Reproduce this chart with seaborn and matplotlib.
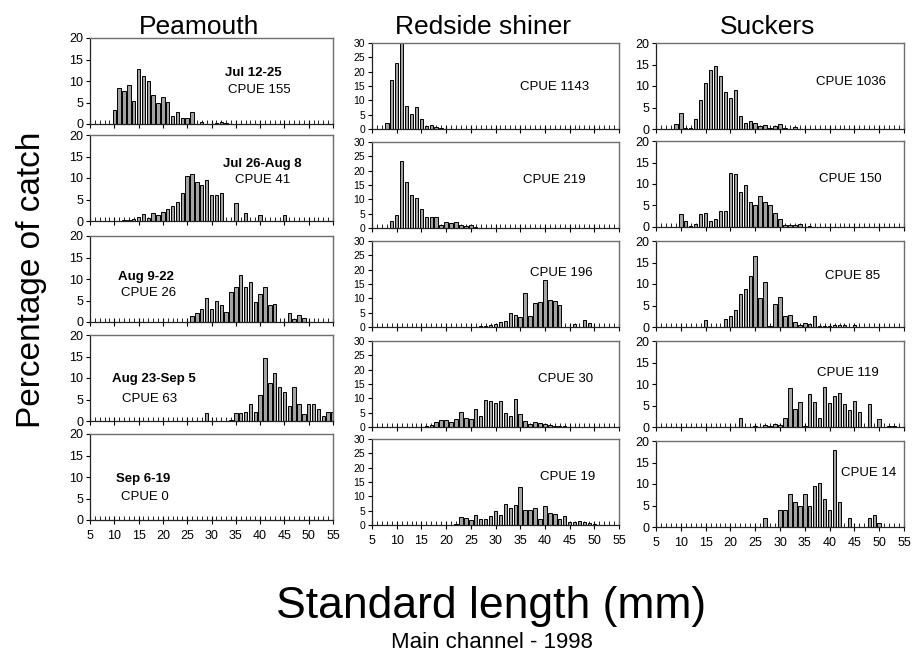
import matplotlib
matplotlib.use("Agg")
import matplotlib.pyplot as plt
import seaborn as sns

# ---------------- data (standard length mm, % of catch) ----------------
# Peamouth
pea1_len = [10, 11, 12, 13, 14, 15, 16, 17, 18, 19, 20, 21, 22, 23, 24, 25, 26, 28, 31, 32, 33]
pea1_pct = [3.3, 8.4, 7.6, 9.1, 5.4, 12.9, 11.2, 9.9, 6.7, 5.0, 6.3, 5.2, 1.9, 2.7, 1.3, 1.3, 2.9, 0.4, 0.3, 0.4, 0.3]
pea2_len = [12, 13, 14, 15, 16, 17, 18, 19, 20, 21, 22, 23, 24, 25, 26, 27, 28, 29, 30, 31, 32, 35, 37, 40, 45]
pea2_pct = [0.3, 0.3, 0.4, 1.0, 1.6, 0.7, 1.8, 1.4, 2.2, 2.9, 3.6, 4.5, 6.6, 10.4, 11.0, 9.1, 8.3, 9.5, 6.0, 6.0, 6.4, 4.1, 1.9, 1.5, 1.5]
pea3_len = [26, 27, 28, 29, 30, 31, 32, 33, 34, 35, 36, 37, 38, 39, 40, 41, 42, 43, 46, 47, 48, 49]
pea3_pct = [1.3, 2.1, 3.1, 5.5, 3.1, 5.0, 4.0, 2.4, 7.0, 8.1, 10.9, 8.1, 9.2, 4.7, 6.6, 8.1, 4.0, 4.3, 2.1, 0.6, 1.7, 0.9]
pea4_len = [29, 34, 35, 36, 37, 38, 39, 40, 41, 42, 43, 44, 45, 46, 47, 48, 49, 50, 51, 52, 53, 54, 55]
pea4_pct = [1.8, 0.2, 1.8, 1.8, 2.2, 3.9, 2.2, 6.0, 14.7, 8.8, 11.1, 7.8, 6.8, 3.6, 7.8, 3.9, 1.6, 3.9, 3.9, 2.8, 1.2, 2.0, 2.0]
pea5_len = []
pea5_pct = []

# Redside shiner
rss1_len = [8, 9, 10, 11, 12, 13, 14, 15, 16, 17, 18, 19]
rss1_pct = [2.2, 17.1, 23.0, 31.0, 7.9, 5.2, 7.7, 3.5, 1.2, 1.5, 0.6, 0.2]
rss2_len = [9, 10, 11, 12, 13, 14, 15, 16, 17, 18, 19, 20, 21, 22, 23, 24, 25, 26]
rss2_pct = [2.6, 4.6, 23.2, 16.2, 11.5, 10.4, 6.6, 4.0, 3.8, 3.8, 1.2, 2.0, 1.6, 2.1, 1.0, 0.7, 1.0, 0.3]
rss3_len = [27, 28, 29, 30, 31, 32, 33, 34, 35, 36, 37, 38, 39, 40, 41, 42, 43, 46, 48, 49]
rss3_pct = [0.2, 0.2, 0.6, 0.9, 1.8, 2.0, 4.8, 4.1, 3.6, 11.8, 3.7, 8.4, 8.6, 16.4, 9.4, 9.0, 7.7, 0.9, 2.4, 1.5]
rss4_len = [16, 17, 18, 19, 20, 21, 22, 23, 24, 25, 26, 27, 28, 29, 30, 31, 32, 33, 34, 35, 36, 37, 38, 39, 40, 41, 42, 43, 44]
rss4_pct = [0.4, 0.8, 1.6, 2.3, 2.5, 1.9, 2.9, 5.2, 3.3, 2.9, 6.4, 3.9, 9.3, 9.0, 8.4, 9.0, 5.0, 3.9, 9.6, 4.5, 2.2, 1.2, 1.7, 1.4, 1.0, 0.6, 0.5, 0.4, 0.3]
rss5_len = [22, 23, 24, 25, 26, 27, 28, 29, 30, 31, 32, 33, 34, 35, 36, 37, 38, 39, 40, 41, 42, 43, 44, 45, 46, 47, 48, 49, 50]
rss5_pct = [0.3, 2.8, 2.5, 1.6, 3.5, 2.2, 2.1, 3.2, 5.0, 3.4, 7.3, 6.0, 7.1, 13.1, 5.4, 5.1, 6.0, 2.2, 6.8, 4.2, 4.0, 2.0, 3.3, 1.0, 1.0, 1.4, 1.0, 0.8, 0.4]

# Suckers
suc1_len = [9, 10, 11, 12, 13, 14, 15, 16, 17, 18, 19, 20, 21, 22, 23, 24, 25, 26, 27, 28, 29, 30, 31, 33]
suc1_pct = [1.1, 3.8, 0.3, 0.2, 2.4, 6.7, 10.6, 13.7, 14.7, 12.4, 8.6, 7.3, 9.0, 3.1, 1.4, 1.8, 1.5, 0.8, 0.9, 0.2, 0.6, 1.1, 0.2, 0.5]
suc2_len = [10, 11, 12, 13, 14, 15, 16, 17, 18, 19, 20, 21, 22, 23, 24, 25, 26, 27, 28, 29, 30, 31, 32, 33, 34, 36]
suc2_pct = [3.0, 1.3, 0.2, 0.8, 3.0, 3.2, 1.3, 1.9, 3.7, 3.8, 12.5, 12.3, 8.2, 9.8, 5.8, 5.0, 7.3, 5.7, 5.1, 3.3, 1.9, 0.4, 0.4, 0.4, 0.8, 0.2]
suc3_len = [15, 19, 20, 21, 22, 23, 24, 25, 26, 27, 28, 29, 30, 31, 32, 33, 34, 35, 36, 37, 38, 39, 40, 41, 42, 43, 45]
suc3_pct = [1.6, 1.9, 2.5, 4.0, 7.7, 8.9, 11.9, 16.5, 6.8, 10.5, 0.3, 5.3, 6.9, 2.6, 2.9, 1.2, 0.4, 1.0, 0.8, 2.5, 0.3, 0.3, 0.3, 0.4, 0.4, 0.5, 0.4]
suc4_len = [22, 25, 27, 28, 29, 30, 31, 32, 33, 34, 35, 36, 37, 38, 39, 40, 41, 42, 43, 44, 45, 46, 48, 50, 52, 53]
suc4_pct = [2.0, 0.3, 0.5, 0.3, 0.6, 0.4, 2.2, 9.1, 4.2, 5.9, 0.2, 7.7, 5.7, 2.0, 9.3, 5.6, 7.2, 7.8, 5.4, 3.9, 6.1, 3.6, 5.3, 1.8, 0.3, 0.3]
suc5_len = [27, 30, 31, 32, 33, 34, 35, 36, 37, 38, 39, 40, 41, 42, 44, 48, 49, 50]
suc5_pct = [2.0, 3.9, 3.9, 7.6, 5.8, 4.8, 7.6, 4.8, 9.5, 10.3, 6.6, 3.9, 17.9, 5.8, 2.0, 2.0, 2.9, 1.0]

species = ["Peamouth", "Redside shiner", "Suckers"]
periods = ["Jul 12-25", "Jul 26-Aug 8", "Aug 9-22", "Aug 23-Sep 5", "Sep 6-19"]
pea_cpue = ["CPUE 155", "CPUE 41", "CPUE 26", "CPUE 63", "CPUE 0"]
rss_cpue = ["CPUE 1143", "CPUE 219", "CPUE 196", "CPUE 30", "CPUE 19"]
suc_cpue = ["CPUE 1036", "CPUE 150", "CPUE 85", "CPUE 119", "CPUE 14"]
x_ticks = [5, 10, 15, 20, 25, 30, 35, 40, 45, 50, 55]

# ---------------- style ----------------
sns.set_style("ticks")
plt.rcParams["font.family"] = ["Liberation Sans", "DejaVu Sans"]
plt.rcParams["text.color"] = "black"
plt.rcParams["xtick.color"] = "black"
plt.rcParams["ytick.color"] = "black"
plt.rcParams["xtick.labelcolor"] = "black"
plt.rcParams["ytick.labelcolor"] = "black"

W, H = 913, 666
fig = plt.figure(figsize=(W / 100, H / 100), dpi=100)

panels = [
    [(pea1_len, pea1_pct), (pea2_len, pea2_pct), (pea3_len, pea3_pct), (pea4_len, pea4_pct), (pea5_len, pea5_pct)],
    [(rss1_len, rss1_pct), (rss2_len, rss2_pct), (rss3_len, rss3_pct), (rss4_len, rss4_pct), (rss5_len, rss5_pct)],
    [(suc1_len, suc1_pct), (suc2_len, suc2_pct), (suc3_len, suc3_pct), (suc4_len, suc4_pct), (suc5_len, suc5_pct)],
]
cpues = [pea_cpue, rss_cpue, suc_cpue]

# layout (pixels)
col_x = [(90, 333), (372, 619), (656, 904)]
col_tops = [[38, 135, 236, 335, 434], [43, 142, 241, 341, 439], [43, 141, 241, 341, 441]]
panel_h = 86
ymaxes = [20, 30, 20]
ytick_fs = [9, 7.5, 9]

# text positions in data coordinates
date_pos = [(38.7, 11.9), (40.4, 13.3), (16.45, 10.5), (18.15, 9.8), (15.9, 9.5)]
cpue_pos = [
    [(39.8, 7.9), (40.5, 9.5), (17.0, 6.7), (17.2, 5.1), (16.3, 5.3)],
    [(41.9, 14.6), (42.0, 16.6), (43.4, 18.7), (44.2, 16.8), (44.6, 16.9)],
    [(44.4, 10.9), (44.2, 11.2), (44.6, 11.9), (43.6, 12.5), (47.9, 12.5)],
]

for c in range(3):
    x0, x1 = col_x[c]
    for r in range(5):
        top = col_tops[c][r]
        ax = fig.add_axes([x0 / W, 1 - (top + panel_h) / H, (x1 - x0) / W, panel_h / H])
        lens, pcts = panels[c][r]
        if len(lens) > 0:
            sns.histplot(x=lens, weights=pcts, discrete=True, shrink=0.7,
                         color="#a3a3a3", edgecolor="black", linewidth=0.7,
                         alpha=1, ax=ax)
        ax.set_xlim(5, 55)
        ax.set_ylim(0, ymaxes[c])
        ax.set_xlabel("")
        ax.set_ylabel("")
        ax.set_xticks(x_ticks)
        ax.set_xticks(range(5, 56), minor=True)
        ax.set_yticks(range(0, ymaxes[c] + 1, 5))
        ax.tick_params(axis="x", which="major", direction="inout", length=6, width=0.8,
                       color="black", labelsize=9, pad=4, labelcolor="black")
        ax.tick_params(axis="x", which="minor", direction="in", length=3, width=0.6, color="black")
        ax.tick_params(axis="y", which="major", direction="out", length=3, width=0.8,
                       color="black", labelsize=ytick_fs[c], pad=2, labelcolor="black")
        if r < 4:
            ax.tick_params(axis="x", labelbottom=False)
        for side in ["top", "right"]:
            ax.spines[side].set_color("#6e6e6e")
            ax.spines[side].set_linewidth(1.0)
        for side in ["left", "bottom"]:
            ax.spines[side].set_color("#222222")
            ax.spines[side].set_linewidth(0.9)
        # annotations
        if c == 0:
            dx, dy = date_pos[r]
            ax.text(dx, dy, periods[r], ha="center", va="center", fontsize=9.5,
                    fontweight="bold", color="black")
        tx, ty = cpue_pos[c][r]
        ax.text(tx, ty, cpues[c][r], ha="center", va="center", fontsize=9.5, color="black")

# column titles
title_x = [199, 483, 768]
for c in range(3):
    fig.text(title_x[c] / W, 1 - 34 / H, species[c], ha="center", va="baseline",
             fontsize=19, color="black")

fig.text(32 / W, 1 - 280 / H, "Percentage of catch", rotation=90, ha="center",
         va="center", fontsize=24, color="black")
fig.text(491.5 / W, 1 - 618 / H, "Standard length (mm)", ha="center", va="baseline",
         fontsize=32, color="black")
fig.text(491.5 / W, 1 - 648 / H, "Main channel - 1998", ha="center", va="baseline",
         fontsize=16, color="black")

fig.savefig("out.png", dpi=100)
